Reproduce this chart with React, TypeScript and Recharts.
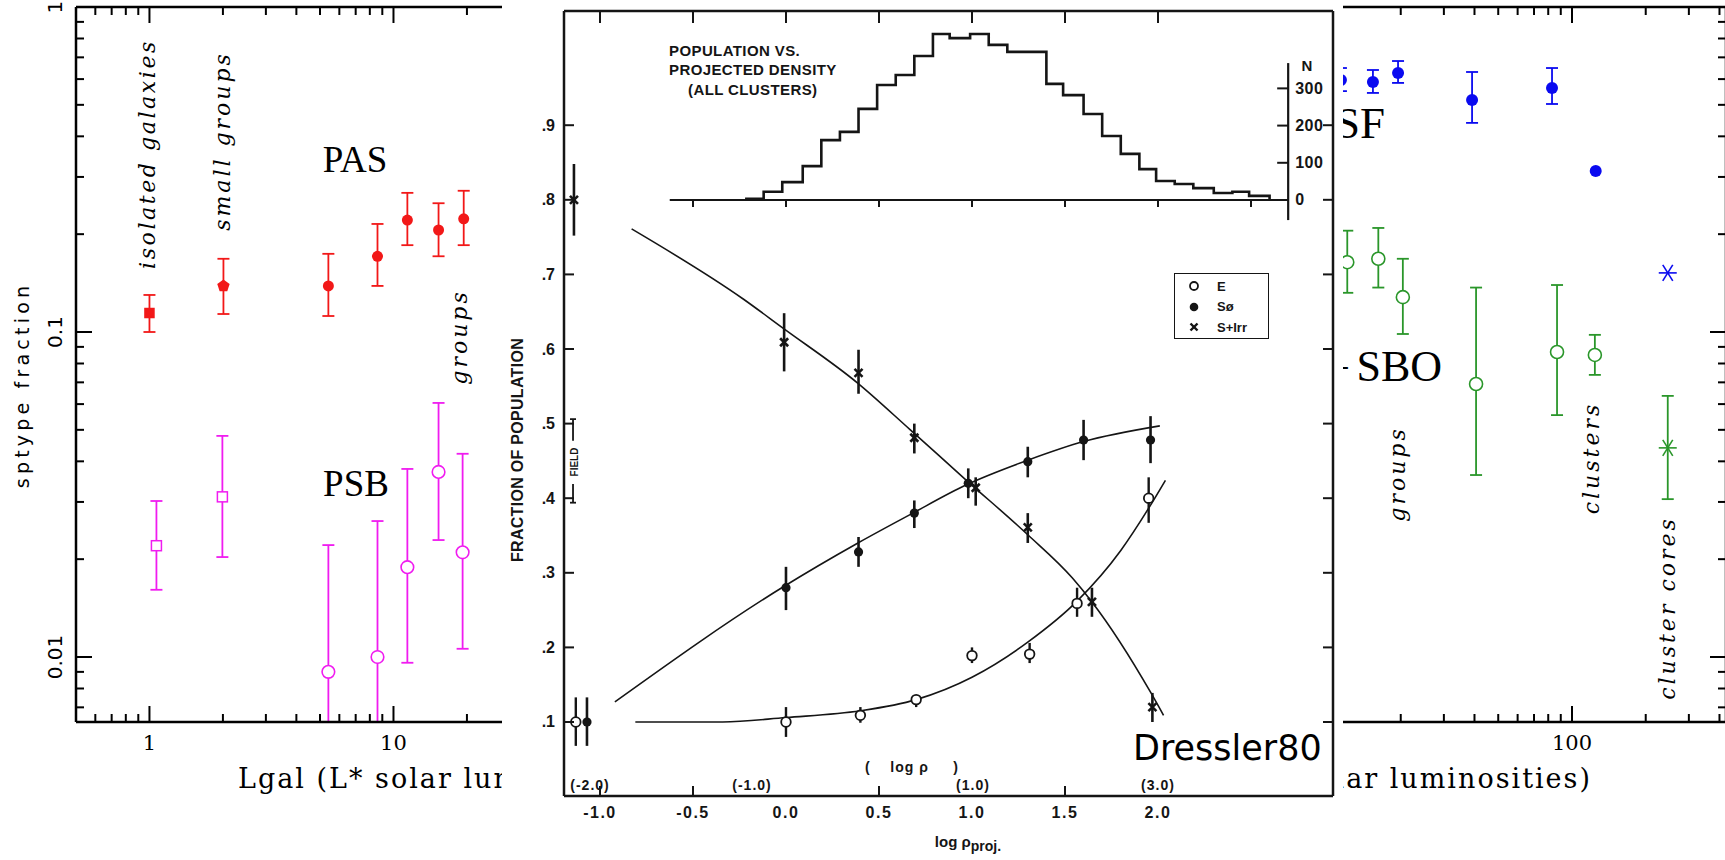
import React from "react";
import { ScatterChart, Scatter, XAxis, YAxis, ErrorBar, Legend } from "recharts";

const SERIF = '"DejaVu Serif", serif';
const SANS = '"DejaVu Sans", sans-serif';
const SCAN = '"Liberation Sans", Arial, sans-serif';
const TIMES = '"Liberation Serif", serif';

const RED = "#f21818";
const MAGENTA = "#f01cf0";
const BLUE = "#0a0af0";
const GREEN = "#2a962a";
const INK = "#151515";

// ---------- background plot: type fraction vs Lgal (left piece) ----------
const lumTicksLeft = [0.6, 0.7, 0.8, 0.9, 1, 2, 3, 4, 5, 6, 7, 8, 9, 10, 20, 30, 40, 50, 60, 70, 80, 90, 100];
const lumTicksRight = [2, 3, 4, 5, 6, 7, 8, 9, 10, 20, 30, 40, 50, 60, 70, 80, 90, 100, 200, 300, 400];
const lumLabelsLeft = [1, 10];
const lumLabelsRight = [100];
const fracTicksLog = [0.007, 0.008, 0.009, 0.01, 0.02, 0.03, 0.04, 0.05, 0.06, 0.07, 0.08, 0.09, 0.1, 0.2, 0.3, 0.4, 0.5, 0.6, 0.7, 0.8, 0.9, 1];
const fracLabels = [0.01, 0.1, 1];
const FRAC_MIN = 0.0063096;

// PAS: isolated, small groups, then groups
const pasLum = [1.0, 2.01, 5.41, 8.6, 11.4, 15.3, 19.4];
const pasFrac = [0.1144, 0.1386, 0.1386, 0.171, 0.221, 0.206, 0.223];
const pasLow = [0.1, 0.1136, 0.112, 0.1386, 0.185, 0.171, 0.185];
const pasHigh = [0.13, 0.168, 0.174, 0.215, 0.268, 0.249, 0.272];

// PSB: isolated, small groups, then groups (two lowest bars run off the axis)
const psbLum = [1.068, 1.99, 5.41, 8.6, 11.4, 15.3, 19.2];
const psbFrac = [0.022, 0.0311, 0.009, 0.01, 0.0189, 0.0371, 0.021];
const psbLow = [0.0161, 0.0203, FRAC_MIN, FRAC_MIN, 0.0096, 0.0229, 0.0106];
const psbHigh = [0.0302, 0.0479, 0.0221, 0.0262, 0.0379, 0.0605, 0.0422];

// ---------- right piece ----------
const sfLum = [11.4, 15.4, 19.5, 39.1, 82.9];
const sfFrac = [0.596, 0.588, 0.627, 0.517, 0.563];
const sfLow = [0.551, 0.544, 0.584, 0.44, 0.503];
const sfHigh = [0.649, 0.64, 0.682, 0.631, 0.649];
const sfClusterLum = [125];
const sfClusterFrac = [0.313];
const sfCoreLum = [246];
const sfCoreFrac = [0.152];

const esLum = [12.1, 16.2, 20.4, 40.6, 86.9, 124];
const esFrac = [0.164, 0.168, 0.128, 0.0692, 0.0868, 0.085];
const esLow = [0.132, 0.137, 0.0986, 0.0363, 0.0555, 0.0738];
const esHigh = [0.205, 0.209, 0.168, 0.137, 0.1395, 0.098];
const esCoreLum = [246];
const esCoreFrac = [0.044];
const esCoreLow = [0.0306];
const esCoreHigh = [0.0636];

// ---------- Dressler 1980 inset ----------
const rhoTicks = [-1, -0.5, 0, 0.5, 1, 1.5, 2];
const rhoTickMarks = [-1, -0.5, 0.5, 1.5];
const histTicks = [-0.5, 0, 0.5, 1, 1.5, 2, 2.5];
const popTicks = [0.1, 0.2, 0.3, 0.4, 0.5, 0.6, 0.7, 0.8, 0.9];
const nTicks = [0, 100, 200, 300];
const legendOrder = ["E", "Sø", "S+Irr"];

const eRho = [-1.13, 0.0, 0.4, 0.7, 1.0, 1.31, 1.565, 1.95];
const eFrac = [0.1, 0.1, 0.109, 0.13, 0.189, 0.191, 0.259, 0.4];
const eLow = [0.068, 0.08, 0.099, 0.12, 0.179, 0.179, 0.241, 0.367];
const eHigh = [0.133, 0.12, 0.12, 0.136, 0.2, 0.206, 0.28, 0.428];

const s0Rho = [-1.07, 0.0, 0.39, 0.69, 0.98, 1.3, 1.6, 1.96];
const s0Frac = [0.1, 0.28, 0.328, 0.38, 0.42, 0.449, 0.478, 0.478];
const s0Low = [0.068, 0.25, 0.308, 0.36, 0.4, 0.428, 0.451, 0.447];
const s0High = [0.133, 0.308, 0.348, 0.397, 0.44, 0.469, 0.505, 0.51];

const spRho = [-1.14, -0.01, 0.39, 0.69, 1.02, 1.3, 1.645, 1.97];
const spFrac = [0.8, 0.609, 0.568, 0.481, 0.414, 0.361, 0.261, 0.12];
const spLow = [0.752, 0.57, 0.54, 0.46, 0.39, 0.34, 0.241, 0.1];
const spHigh = [0.848, 0.648, 0.599, 0.5, 0.428, 0.38, 0.28, 0.139];

// fitted curves
const spCurveRho = [-0.83, -0.23, -0.016, 0.387, 0.667, 0.97, 1.3, 1.54, 1.645, 1.96, 2.03];
const spCurveFrac = [0.761, 0.667, 0.628, 0.554, 0.492, 0.424, 0.351, 0.293, 0.261, 0.14, 0.109];
const s0CurveRho = [-0.92, -0.016, 0.387, 0.667, 0.97, 1.3, 1.6, 2.01];
const s0CurveFrac = [0.127, 0.281, 0.34, 0.378, 0.418, 0.451, 0.476, 0.497];
const eCurveRho = [-0.81, -0.34, 0.0, 0.4, 0.7, 1.0, 1.3, 1.565, 1.8, 1.946, 2.04];
const eCurveFrac = [0.1, 0.1, 0.106, 0.115, 0.13, 0.16, 0.207, 0.262, 0.33, 0.385, 0.424];

// population histogram (N per 0.1 dex)
const histEdges = [-0.22, -0.12, -0.02, 0.09, 0.19, 0.29, 0.39, 0.49, 0.59, 0.69, 0.79, 0.88, 0.99, 1.09, 1.19, 1.4, 1.49, 1.6, 1.7, 1.8, 1.9, 1.99, 2.09, 2.19, 2.3, 2.4, 2.49, 2.6];
const histCounts = [3, 22, 48, 91, 161, 183, 245, 309, 336, 387, 446, 435, 446, 417, 398, 312, 282, 231, 172, 124, 83, 51, 43, 32, 19, 22, 11, 0];
const histBase = [-0.625, 2.7];
const nAxisRho = 2.7;
const nAxisSpan = [-54, 368];

const fieldRho = -1.145;
const fieldTop = [0.506, 0.477];
const fieldBottom = [0.419, 0.394];

type Row = { x: number; y: number; err?: number[] };
const rows = (xs: number[], ys: number[], lo?: number[], hi?: number[]): Row[] =>
  xs.map((x, i) => ({ x, y: ys[i], err: lo && hi ? [ys[i] - lo[i], hi[i] - ys[i]] : undefined }));

// ---------- marker shapes ----------
const dot = (r: number, fill: string) => (p: any) => <circle cx={p.cx} cy={p.cy} r={r} fill={fill} />;
const ring = (r: number, stroke: string, sw = 1.6) => (p: any) => (
  <circle cx={p.cx} cy={p.cy} r={r} fill="#fff" stroke={stroke} strokeWidth={sw} />
);
const box = (s: number, color: string, filled: boolean) => (p: any) => (
  <rect x={p.cx - s / 2} y={p.cy - s / 2} width={s} height={s} fill={filled ? color : "#fff"} stroke={color} strokeWidth={1.5} />
);
const pentagon = (r: number, color: string) => (p: any) => {
  const pts = [0, 1, 2, 3, 4]
    .map((k) => {
      const a = ((-90 + 72 * k) * Math.PI) / 180;
      return `${p.cx + r * Math.cos(a)},${p.cy + r * Math.sin(a)}`;
    })
    .join(" ");
  return <polygon points={pts} fill={color} />;
};
const star = (color: string) => (p: any) => (
  <g stroke={color} strokeWidth={1.6}>
    <line x1={p.cx - 9} y1={p.cy} x2={p.cx + 9} y2={p.cy} />
    <line x1={p.cx - 5} y1={p.cy - 8} x2={p.cx + 5} y2={p.cy + 8} />
    <line x1={p.cx - 5} y1={p.cy + 8} x2={p.cx + 5} y2={p.cy - 8} />
  </g>
);
const cross = (s: number) => (p: any) => (
  <g stroke={INK} strokeWidth={2.6}>
    <line x1={p.cx - s} y1={p.cy - s} x2={p.cx + s} y2={p.cy + s} />
    <line x1={p.cx - s} y1={p.cy + s} x2={p.cx + s} y2={p.cy - s} />
  </g>
);
const cap = (color: string) => (p: any) => <line x1={p.cx - 6} x2={p.cx + 6} y1={p.cy} y2={p.cy} stroke={color} strokeWidth={1.8} />;
const none = () => <g />;

// ---------- log axis ticks ----------
const isDecade = (v: number) => Math.abs(Math.log10(v) - Math.round(Math.log10(v))) < 1e-6;

const logTick = (side: "left" | "right" | "top" | "bottom", labels: number[]) => (p: any) => {
  const { x, y, payload } = p;
  const v = payload.value;
  const major = isDecade(v);
  const len = major ? 16 : 8;
  let x2 = x;
  let y2 = y;
  if (side === "left") x2 = x + len;
  else if (side === "right") x2 = x - len;
  else if (side === "top") y2 = y + len;
  else y2 = y - len;
  const show = labels.some((l) => Math.abs(l - v) < 1e-9);
  let label = null;
  if (show && side === "left") {
    label = (
      <text x={x - 21} y={y} transform={`rotate(-90 ${x - 21} ${y})`} textAnchor="middle" dominantBaseline="central" fontFamily={SANS} fontSize={20} fill="#000">
        {String(v)}
      </text>
    );
  }
  if (show && side === "bottom") {
    label = (
      <text x={x} y={y + 21} textAnchor="middle" dominantBaseline="central" fontFamily={SERIF} fontSize={21} fill="#000">
        {String(v)}
      </text>
    );
  }
  return (
    <g>
      <line x1={x} y1={y} x2={x2} y2={y2} stroke="#000" strokeWidth={2} />
      {label}
    </g>
  );
};

const axisLine = { stroke: "#000", strokeWidth: 2.5 };

function LeftPanel() {
  const pas = rows(pasLum, pasFrac, pasLow, pasHigh);
  const psb = rows(psbLum, psbFrac, psbLow, psbHigh);
  const psbOffAxis = psb.slice(2, 4);
  const psbCaps = psbLum.slice(2, 4).map((x, i) => ({ x, y: psbHigh[i + 2] }));
  return (
    <ScatterChart width={640} height={860} margin={{ top: 6, left: 75, right: 2.5, bottom: 137 }}>
      <XAxis xAxisId="b" type="number" dataKey="x" scale="log" domain={[0.5, 100]} allowDataOverflow ticks={lumTicksLeft} interval={0} height={1} tickSize={0} tickMargin={0} tickLine={false} axisLine={axisLine} tick={logTick("bottom", lumLabelsLeft)} />
      <XAxis xAxisId="t" orientation="top" type="number" dataKey="x" scale="log" domain={[0.5, 100]} allowDataOverflow ticks={lumTicksLeft} interval={0} height={1} tickSize={0} tickMargin={0} tickLine={false} axisLine={axisLine} tick={logTick("top", [])} />
      <YAxis yAxisId="l" type="number" dataKey="y" scale="log" domain={[FRAC_MIN, 1]} allowDataOverflow ticks={fracTicksLog} interval={0} width={1} tickSize={0} tickMargin={0} tickLine={false} axisLine={axisLine} tick={logTick("left", fracLabels)} />
      <Scatter xAxisId="b" yAxisId="l" data={pas.slice(0, 1)} shape={box(9, RED, true)} isAnimationActive={false}>
        <ErrorBar dataKey="err" direction="y" width={6} stroke={RED} strokeWidth={1.8} />
      </Scatter>
      <Scatter xAxisId="b" yAxisId="l" data={pas.slice(1, 2)} shape={pentagon(6.5, RED)} isAnimationActive={false}>
        <ErrorBar dataKey="err" direction="y" width={6} stroke={RED} strokeWidth={1.8} />
      </Scatter>
      <Scatter xAxisId="b" yAxisId="l" data={pas.slice(2)} shape={dot(5.5, RED)} isAnimationActive={false}>
        <ErrorBar dataKey="err" direction="y" width={6} stroke={RED} strokeWidth={1.8} />
      </Scatter>
      <Scatter xAxisId="b" yAxisId="l" data={psb.slice(0, 2)} shape={box(10, MAGENTA, false)} isAnimationActive={false}>
        <ErrorBar dataKey="err" direction="y" width={6} stroke={MAGENTA} strokeWidth={1.8} />
      </Scatter>
      <Scatter xAxisId="b" yAxisId="l" data={psbOffAxis} shape={ring(6.3, MAGENTA, 1.6)} isAnimationActive={false}>
        <ErrorBar dataKey="err" direction="y" width={0} stroke={MAGENTA} strokeWidth={1.8} />
      </Scatter>
      <Scatter xAxisId="b" yAxisId="l" data={psbCaps} shape={cap(MAGENTA)} isAnimationActive={false} />
      <Scatter xAxisId="b" yAxisId="l" data={psb.slice(4)} shape={ring(6.3, MAGENTA, 1.6)} isAnimationActive={false}>
        <ErrorBar dataKey="err" direction="y" width={6} stroke={MAGENTA} strokeWidth={1.8} />
      </Scatter>
    </ScatterChart>
  );
}

function RightPanel() {
  return (
    <ScatterChart width={645} height={860} margin={{ top: 6, left: 0, right: 0, bottom: 137 }}>
      <XAxis xAxisId="b" type="number" dataKey="x" scale="log" domain={[1, 425.3]} allowDataOverflow ticks={lumTicksRight} interval={0} height={1} tickSize={0} tickMargin={0} tickLine={false} axisLine={axisLine} tick={logTick("bottom", lumLabelsRight)} />
      <XAxis xAxisId="t" orientation="top" type="number" dataKey="x" scale="log" domain={[1, 425.3]} allowDataOverflow ticks={lumTicksRight} interval={0} height={1} tickSize={0} tickMargin={0} tickLine={false} axisLine={axisLine} tick={logTick("top", [])} />
      <YAxis yAxisId="r" orientation="right" type="number" dataKey="y" scale="log" domain={[FRAC_MIN, 1]} allowDataOverflow ticks={fracTicksLog} interval={0} width={1} tickSize={0} tickMargin={0} tickLine={false} axisLine={axisLine} tick={logTick("right", [])} />
      <Scatter xAxisId="b" yAxisId="r" data={rows(sfLum, sfFrac, sfLow, sfHigh)} shape={dot(6, BLUE)} isAnimationActive={false}>
        <ErrorBar dataKey="err" direction="y" width={6} stroke={BLUE} strokeWidth={1.8} />
      </Scatter>
      <Scatter xAxisId="b" yAxisId="r" data={rows(sfClusterLum, sfClusterFrac)} shape={dot(6, BLUE)} isAnimationActive={false} />
      <Scatter xAxisId="b" yAxisId="r" data={rows(sfCoreLum, sfCoreFrac)} shape={star(BLUE)} isAnimationActive={false} />
      <Scatter xAxisId="b" yAxisId="r" data={rows(esLum, esFrac, esLow, esHigh)} shape={ring(6.5, GREEN, 1.6)} isAnimationActive={false}>
        <ErrorBar dataKey="err" direction="y" width={6} stroke={GREEN} strokeWidth={1.8} />
      </Scatter>
      <Scatter xAxisId="b" yAxisId="r" data={rows(esCoreLum, esCoreFrac, esCoreLow, esCoreHigh)} shape={star(GREEN)} isAnimationActive={false}>
        <ErrorBar dataKey="err" direction="y" width={6} stroke={GREEN} strokeWidth={1.8} />
      </Scatter>
    </ScatterChart>
  );
}

// ---------- Dressler inset ticks ----------
const dTick = (side: "left" | "right" | "top" | "bottom") => (p: any) => {
  const { x, y, payload } = p;
  const v = payload.value;
  if (side === "left")
    return (
      <g>
        <line x1={x} x2={x + 10} y1={y} y2={y} stroke={INK} strokeWidth={2} />
        <text x={x - 9} y={y} textAnchor="end" dominantBaseline="central" fontFamily={SCAN} fontWeight={700} fontSize={16} fill={INK}>
          {v.toFixed(1).slice(1)}
        </text>
      </g>
    );
  if (side === "right") return <line x1={x} x2={x - 10} y1={y} y2={y} stroke={INK} strokeWidth={2} />;
  if (side === "top") return <line x1={x} x2={x} y1={y} y2={y + 12} stroke={INK} strokeWidth={2} />;
  return (
    <g>
      {rhoTickMarks.includes(v) && <line x1={x} x2={x} y1={y} y2={y - 10} stroke={INK} strokeWidth={2} />}
      <text x={x} y={y + 16} textAnchor="middle" dominantBaseline="central" fontFamily={SCAN} fontWeight={700} fontSize={16} letterSpacing={1.5} fill={INK}>
        {v.toFixed(1)}
      </text>
    </g>
  );
};

const legendIcon = (name: string) => {
  if (name === "E") return <circle cx={7} cy={7} r={4} fill="#fff" stroke={INK} strokeWidth={1.8} />;
  if (name === "Sø") return <circle cx={7} cy={7} r={4.3} fill={INK} />;
  return (
    <g stroke={INK} strokeWidth={2.4}>
      <line x1={3.5} y1={3.5} x2={10.5} y2={10.5} />
      <line x1={10.5} y1={3.5} x2={3.5} y2={10.5} />
    </g>
  );
};

const legendContent = (props: any) => {
  const entries = legendOrder.map((n) => (props.payload || []).find((e: any) => e.value === n)).filter(Boolean);
  return (
    <div style={{ border: `1.5px solid ${INK}`, background: "#fff", width: 95, height: 66, boxSizing: "border-box", paddingTop: 2, fontFamily: SCAN, fontWeight: 700, fontSize: 13, color: INK }}>
      {entries.map((e: any) => (
        <div key={e.value} style={{ display: "flex", alignItems: "center", height: 20.5, paddingLeft: 12 }}>
          <svg width={14} height={14}>{legendIcon(e.value)}</svg>
          <span style={{ marginLeft: 16 }}>{e.value}</span>
        </div>
      ))}
    </div>
  );
};

function DresslerPanel() {
  const curve = { stroke: INK, strokeWidth: 1.6 };
  const hist = histEdges.map((x, i) => ({ x, y: histCounts[i] }));
  const base = histBase.map((x) => ({ x, y: 0 }));
  const nAxis = nAxisSpan.map((y) => ({ x: nAxisRho, y }));
  const nTickRows = nTicks.map((y) => ({ x: nAxisRho, y }));
  const baseTicks = histTicks.map((x) => ({ x, y: 0 }));
  const frame = { stroke: INK, strokeWidth: 2.5 };
  return (
    <ScatterChart width={841} height={860} margin={{ top: 10, left: 61, right: 9, bottom: 63 }}>
      <XAxis xAxisId="b" type="number" dataKey="x" domain={[-1.1935, 2.941]} allowDataOverflow ticks={rhoTicks} interval={0} height={1} tickSize={0} tickMargin={0} tickLine={false} axisLine={frame} tick={dTick("bottom")} />
      <XAxis xAxisId="t" orientation="top" type="number" dataKey="x" domain={[-1.1935, 2.941]} allowDataOverflow ticks={rhoTicks} interval={0} height={1} tickSize={0} tickMargin={0} tickLine={false} axisLine={frame} tick={dTick("top")} />
      <YAxis yAxisId="f" type="number" dataKey="y" domain={[0.0008, 1.0531]} allowDataOverflow ticks={popTicks} interval={0} width={1} tickSize={0} tickMargin={0} tickLine={false} axisLine={frame} tick={dTick("left")} />
      <YAxis yAxisId="fr" orientation="right" type="number" dataKey="y" domain={[0.0008, 1.0531]} allowDataOverflow ticks={popTicks} interval={0} width={1} tickSize={0} tickMargin={0} tickLine={false} axisLine={frame} tick={dTick("right")} />
      <YAxis yAxisId="n" hide type="number" dataKey="y" domain={[-1602, 508]} allowDataOverflow width={0} />

      <Legend layout="vertical" align="center" verticalAlign="middle" content={legendContent} wrapperStyle={{ left: 672, top: 273, width: 95, height: 66 }} />

      <Scatter xAxisId="b" yAxisId="f" legendType="none" data={rows(spCurveRho, spCurveFrac)} line={curve} lineJointType="monotoneX" shape={none} isAnimationActive={false} />
      <Scatter xAxisId="b" yAxisId="f" legendType="none" data={rows(s0CurveRho, s0CurveFrac)} line={curve} lineJointType="monotoneX" shape={none} isAnimationActive={false} />
      <Scatter xAxisId="b" yAxisId="f" legendType="none" data={rows(eCurveRho, eCurveFrac)} line={curve} lineJointType="monotoneX" shape={none} isAnimationActive={false} />

      <Scatter xAxisId="b" yAxisId="n" legendType="none" data={hist} line={{ stroke: INK, strokeWidth: 2.6 }} lineJointType="stepAfter" shape={none} isAnimationActive={false} />
      <Scatter xAxisId="b" yAxisId="n" legendType="none" data={base} line={{ stroke: INK, strokeWidth: 2 }} shape={none} isAnimationActive={false} />
      <Scatter xAxisId="b" yAxisId="n" legendType="none" data={baseTicks} shape={(p: any) => <line x1={p.cx} x2={p.cx} y1={p.cy} y2={p.cy + 7} stroke={INK} strokeWidth={2} />} isAnimationActive={false} />
      <Scatter xAxisId="b" yAxisId="n" legendType="none" data={nAxis} line={{ stroke: INK, strokeWidth: 2.2 }} shape={none} isAnimationActive={false} />
      <Scatter
        xAxisId="b"
        yAxisId="n"
        legendType="none"
        data={nTickRows}
        shape={(p: any) => (
          <g>
            <line x1={p.cx - 11} x2={p.cx} y1={p.cy} y2={p.cy} stroke={INK} strokeWidth={2} />
            <text x={p.cx + 7} y={p.cy} dominantBaseline="central" fontFamily={SCAN} fontWeight={700} fontSize={16} letterSpacing={0.5} fill={INK}>
              {p.payload.y}
            </text>
          </g>
        )}
        isAnimationActive={false}
      />

      <Scatter xAxisId="b" yAxisId="f" legendType="none" data={fieldTop.map((y) => ({ x: fieldRho, y }))} line={{ stroke: INK, strokeWidth: 1.8 }} shape={(p: any) => (p.payload.y === fieldTop[0] ? <line x1={p.cx - 3} x2={p.cx + 3} y1={p.cy} y2={p.cy} stroke={INK} strokeWidth={1.8} /> : <g />)} isAnimationActive={false} />
      <Scatter xAxisId="b" yAxisId="f" legendType="none" data={fieldBottom.map((y) => ({ x: fieldRho, y }))} line={{ stroke: INK, strokeWidth: 1.8 }} shape={(p: any) => (p.payload.y === fieldBottom[1] ? <line x1={p.cx - 3} x2={p.cx + 3} y1={p.cy} y2={p.cy} stroke={INK} strokeWidth={1.8} /> : <g />)} isAnimationActive={false} />

      <Scatter name="E" xAxisId="b" yAxisId="f" data={rows(eRho, eFrac, eLow, eHigh)} shape={ring(4.8, INK, 1.8)} isAnimationActive={false}>
        <ErrorBar dataKey="err" direction="y" width={0} stroke={INK} strokeWidth={2.4} />
      </Scatter>
      <Scatter name="Sø" xAxisId="b" yAxisId="f" data={rows(s0Rho, s0Frac, s0Low, s0High)} shape={dot(4.6, INK)} isAnimationActive={false}>
        <ErrorBar dataKey="err" direction="y" width={0} stroke={INK} strokeWidth={2.6} />
      </Scatter>
      <Scatter name="S+Irr" xAxisId="b" yAxisId="f" data={rows(spRho, spFrac, spLow, spHigh)} shape={cross(4)} isAnimationActive={false}>
        <ErrorBar dataKey="err" direction="y" width={0} stroke={INK} strokeWidth={2.6} />
      </Scatter>
    </ScatterChart>
  );
}

type TxtProps = {
  x: number;
  y: number;
  children: React.ReactNode;
  size: number;
  font?: string;
  rot?: boolean;
  anchor?: "start" | "middle" | "end";
  weight?: number;
  italic?: boolean;
  ls?: number;
  color?: string;
};

function Txt({ x, y, children, size, font = SERIF, rot = false, anchor = "middle", weight = 400, italic = false, ls = 0, color = "#000" }: TxtProps) {
  const tx = anchor === "start" ? "0" : anchor === "end" ? "-100%" : "-50%";
  return (
    <div
      style={{
        position: "absolute",
        left: x,
        top: y,
        transform: `translate(${tx}, -50%)${rot ? " rotate(-90deg)" : ""}`,
        transformOrigin: "50% 50%",
        whiteSpace: "pre",
        fontFamily: font,
        fontSize: size,
        fontWeight: weight,
        fontStyle: italic ? "italic" : "normal",
        letterSpacing: ls,
        lineHeight: 1,
        color,
      }}
    >
      {children}
    </div>
  );
}

const LX = 502; // right edge of the visible left piece
const RX = 1343; // left edge of the visible right piece

export default function App() {
  return (
    <div style={{ position: "absolute", left: 0, top: 0, width: 1725, height: 860, overflow: "hidden", background: "#fff" }}>
      <div style={{ position: "absolute", left: 0, top: 0, width: LX, height: 860, overflow: "hidden" }}>
        <div style={{ position: "absolute", left: 0, top: 0 }}>
          <LeftPanel />
        </div>
        <Txt x={22} y={385} size={19} font={SANS} rot ls={4.2}>sptype fraction</Txt>
        <Txt x={148} y={154} size={22} rot italic ls={2.6}>isolated galaxies</Txt>
        <Txt x={223} y={141} size={22} rot italic ls={3}>small groups</Txt>
        <Txt x={460} y={337} size={22} rot italic ls={3}>groups</Txt>
        <Txt x={355} y={159} size={37} font={TIMES}>PAS</Txt>
        <Txt x={356} y={483} size={37} font={TIMES}>PSB</Txt>
        <Txt x={238} y={778} size={27} anchor="start" ls={2}>Lgal (L* solar lun</Txt>
      </div>

      <div style={{ position: "absolute", left: RX, top: 0, width: 1725 - RX, height: 860, overflow: "hidden" }}>
        <div style={{ position: "absolute", left: 1082 - RX, top: 0 }}>
          <RightPanel />
        </div>
        <Txt x={1385 - RX} y={123} size={45} font={TIMES} anchor="end">SF</Txt>
        <Txt x={1350 - RX} y={367} size={43} font={TIMES} anchor="end">E+</Txt>
        <Txt x={1442 - RX} y={367} size={44} font={TIMES} anchor="end">SBO</Txt>
        <Txt x={1398 - RX} y={474} size={22} rot italic ls={3}>groups</Txt>
        <Txt x={1592 - RX} y={458} size={22} rot italic ls={3}>clusters</Txt>
        <Txt x={1668 - RX} y={608} size={22} rot italic ls={3}>cluster cores</Txt>
        <Txt x={1592 - RX} y={778} size={27} anchor="end" ls={2}>lar luminosities)</Txt>
      </div>

      <div style={{ position: "absolute", left: LX, top: 0, width: RX - LX, height: 860, background: "#fff" }}>
        <DresslerPanel />
      </div>
      <Txt x={669} y={50} size={15} font={SCAN} weight={700} anchor="start" ls={0.4} color={INK}>POPULATION VS.</Txt>
      <Txt x={669} y={69} size={15} font={SCAN} weight={700} anchor="start" ls={0.4} color={INK}>PROJECTED DENSITY</Txt>
      <Txt x={688} y={89} size={15} font={SCAN} weight={700} anchor="start" ls={0.4} color={INK}>(ALL CLUSTERS)</Txt>
      <Txt x={1307} y={65} size={15} font={SCAN} weight={700} color={INK}>N</Txt>
      <Txt x={518} y={450} size={16} font={SCAN} weight={700} rot ls={0.3} color={INK}>FRACTION OF POPULATION</Txt>
      <Txt x={575} y={462} size={10} font={SCAN} weight={700} rot color={INK}>FIELD</Txt>
      <Txt x={590} y={785} size={14} font={SCAN} weight={700} ls={1} color={INK}>(-2.0)</Txt>
      <Txt x={752} y={785} size={14} font={SCAN} weight={700} ls={1} color={INK}>(-1.0)</Txt>
      <Txt x={912} y={767} size={14} font={SCAN} weight={700} ls={1} color={INK}>{"(    log ρ     )"}</Txt>
      <Txt x={973} y={785} size={14} font={SCAN} weight={700} ls={1} color={INK}>(1.0)</Txt>
      <Txt x={1158} y={785} size={14} font={SCAN} weight={700} ls={1} color={INK}>(3.0)</Txt>
      <Txt x={968} y={843} size={15} font={SCAN} weight={700} color={INK}>
        log ρ<sub style={{ fontSize: 14 }}>proj.</sub>
      </Txt>
      <Txt x={1133} y={748} size={35} font={SANS} anchor="start">Dressler80</Txt>
    </div>
  );
}
